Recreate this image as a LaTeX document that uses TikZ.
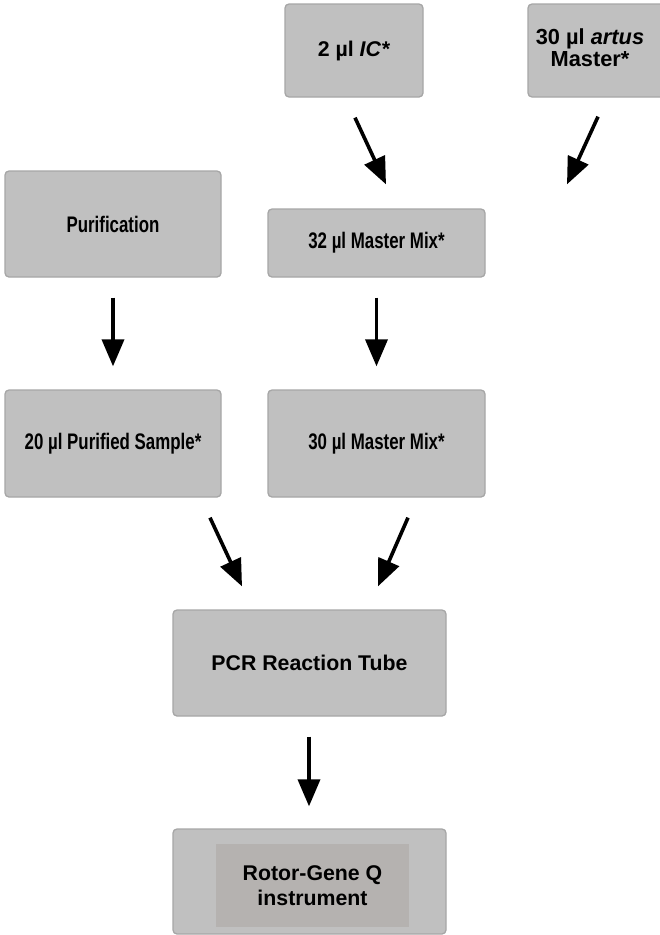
\documentclass[tikz,border=0pt]{standalone}
\usepackage{fontspec}
\setmainfont{Liberation Sans}
\usetikzlibrary{arrows.meta,calc}
\definecolor{boxfill}{RGB}{192,192,192}
\definecolor{boxline}{RGB}{166,166,166}
\definecolor{innerfill}{RGB}{181,178,176}
\begin{document}
\begin{tikzpicture}[x=1pt,y=-1pt,
  box/.style={draw=boxline,line width=1.3pt,fill=boxfill,rounded corners=4pt,
    inner sep=0pt,align=center,font=\bfseries\fontsize{21.3}{21.7}\selectfont},
  condensed/.style={font=\bfseries\fontsize{22.5}{24}\selectfont},
  flow/.style={line width=3.6pt,-{Triangle[width=22pt,length=27pt]}}]
\useasboundingbox (0,0) rectangle (660,935);
\clip (0,0) rectangle (660,935);
% top row
\node[box,minimum width=138pt,minimum height=93pt] (ic) at (354,50.5) {2 µl \textit{IC*}};
\node[box,minimum width=138pt,minimum height=93pt] (artus) at (597,50.5) {};
\node[align=center,inner sep=0pt,font=\bfseries\fontsize{21.8}{21.7}\selectfont] (artusT) at (590,47.5) {30 µl \textit{artus}\\Master*};
% second row
\node[box,minimum width=216pt,minimum height=106pt] (pur) at (113,224) {\scalebox{0.75}[1]{\bfseries\fontsize{22.5}{24}\selectfont Purification}};
\node[box,minimum width=217pt,minimum height=68pt] (mm32) at (376.5,243) {\scalebox{0.75}[1]{\bfseries\fontsize{22.5}{24}\selectfont 32 µl Master Mix*}};
% third row
\node[box,minimum width=216pt,minimum height=107pt] (ps20) at (113,443.5) {\scalebox{0.75}[1]{\bfseries\fontsize{22.5}{24}\selectfont 20 µl Purified Sample*}};
\node[box,minimum width=217pt,minimum height=107pt] (mm30) at (376.5,443.5) {\scalebox{0.75}[1]{\bfseries\fontsize{22.5}{24}\selectfont 30 µl Master Mix*}};
% fourth row
\node[box,minimum width=273pt,minimum height=106pt] (pcr) at (309.5,663) {PCR Reaction Tube};
% bottom
\node[box,minimum width=273pt,minimum height=105pt] (rotor) at (309.5,881.5) {};
\node[fill=innerfill,inner sep=0pt,minimum width=193pt,minimum height=83pt,align=center,
  font=\bfseries\fontsize{21.3}{25}\selectfont] (inst) at (312.5,885.5) {Rotor-Gene Q\\instrument};
% arrows
\draw[flow] ($(ic.south)+(1,20)$) -- ($(mm32.north)+(9.5,-24)$);
\draw[flow] ($(artus.south)+(1,19)$) -- ($(mm32.north)+(190.5,-24)$);
\draw[flow] ($(pur.south)+(0,20)$) -- ($(ps20.north)+(0,-23)$);
\draw[flow] ($(mm32.south)+(0,20)$) -- ($(mm30.north)+(0,-23)$);
\draw[flow] ($(ps20.south)+(97,20)$) -- ($(pcr.north)+(-67.5,-23)$);
\draw[flow] ($(mm30.south)+(31.5,20)$) -- ($(pcr.north)+(68.5,-23)$);
\draw[flow] ($(pcr.south)+(-0.5,20)$) -- ($(rotor.north)+(-0.5,-22)$);
\end{tikzpicture}
\end{document}
